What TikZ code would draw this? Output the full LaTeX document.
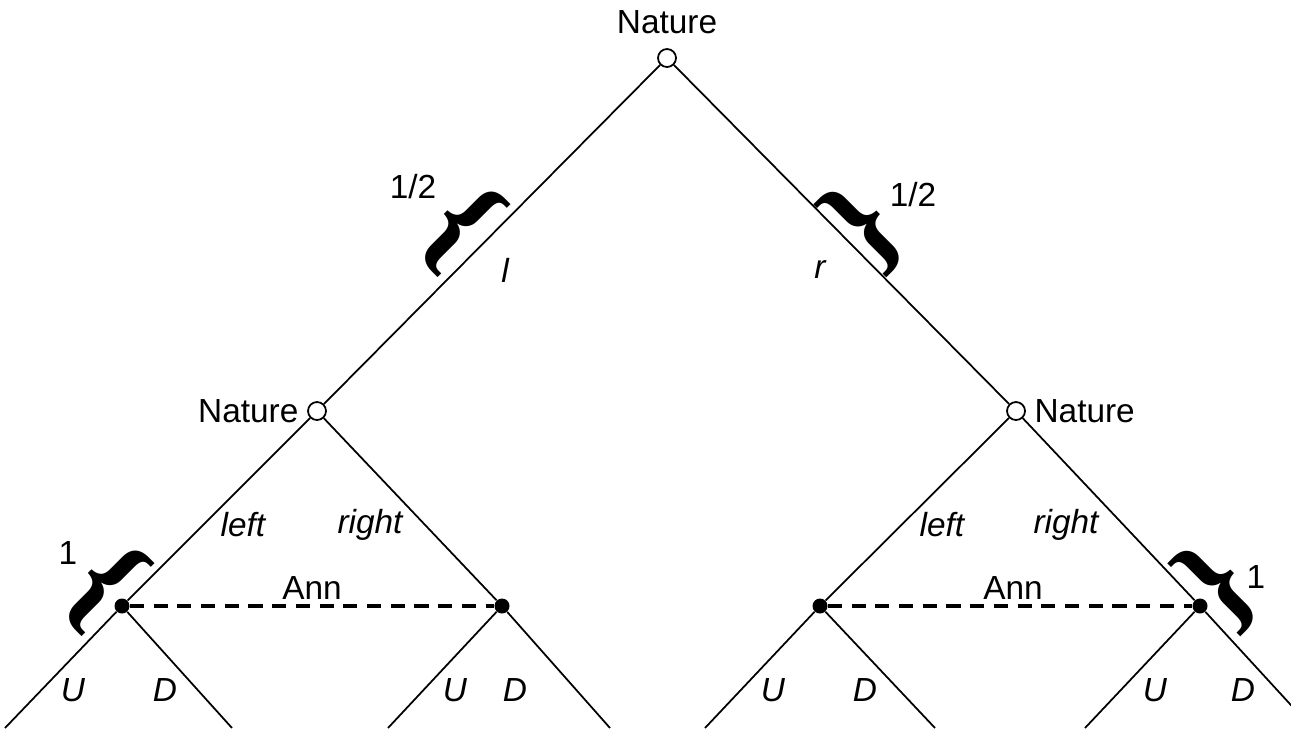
\documentclass[tikz,border=0pt]{standalone}
\usepackage{fontspec}
\setmainfont{Liberation Sans}
\newfontfamily\bracefont{Liberation Serif}[BoldFont={* Bold}]
\usetikzlibrary{positioning}

\begin{document}
\begin{tikzpicture}[
  x=0.02cm, y=-0.02cm,
  font=\fontsize{19}{23}\selectfont,
  chance/.style={circle, draw, fill=white, line width=1pt, minimum size=0.36cm, inner sep=0pt},
  dec/.style={circle, fill=black, minimum size=0.3cm, inner sep=0pt},
  branch/.style={line width=1pt},
  infoset/.style={line width=1.8pt, dash pattern=on 8pt off 5.5pt},
  elabel/.style={font=\fontsize{19}{23}\selectfont\itshape, inner sep=1pt},
  bigbrace/.style={font=\fontsize{71}{71}\selectfont\bracefont\bfseries, inner sep=0pt},
]
  \useasboundingbox (0,0) rectangle (1291,728);
  \clip (0,0) rectangle (1291,728);

  % chance nodes
  \node[chance] (n0) at (667,58) {};
  \node[chance] (n1) at (317,411) {};
  \node[chance] (n2) at (1016,411) {};
  % Ann's decision nodes
  \node[dec] (a1) at (122,606) {};
  \node[dec] (a2) at (502,606) {};
  \node[dec] (a3) at (820,606) {};
  \node[dec] (a4) at (1200,606) {};
  % ends below the frame
  \coordinate (u1) at (5,728);    \coordinate (d1) at (232,728);
  \coordinate (u2) at (388,728);  \coordinate (d2) at (610,728);
  \coordinate (u3) at (705,728);  \coordinate (d3) at (935,728);
  \coordinate (u4) at (1085,728); \coordinate (d4) at (1312,728);

  \draw[branch] (n0) -- (n1);
  \draw[branch] (n0) -- (n2);
  \draw[branch] (n1) -- (a1);
  \draw[branch] (n1) -- (a2);
  \draw[branch] (n2) -- (a3);
  \draw[branch] (n2) -- (a4);
  \foreach \i in {1,2,3,4} {
    \draw[branch] (a\i) -- (u\i);
    \draw[branch] (a\i) -- (d\i);
  }
  \draw[infoset] (a1) -- (a2);
  \draw[infoset] (a3) -- (a4);

  % players
  \node (t0) at (667,22) {Nature};
  \node[left=0.05cm of n1] (t1) {Nature};
  \node[right=0.05cm of n2] (t2) {Nature};
  \node (ann1) at (312,588) {Ann};
  \node (ann2) at (1013,588) {Ann};

  % moves
  \node[elabel] (ml) at (505,270) {l};
  \node[elabel] (mr) at (820,270) {r};
  \node[elabel] (lf1) at (243,525) {left};
  \node[elabel] (rt1) at (370,525) {right};
  \node[elabel] (lf2) at (942,525) {left};
  \node[elabel] (rt2) at (1066,525) {right};
  \foreach \x/\y [count=\k] in {73/165, 455/515, 773/865, 1155/1243} {
    \node[elabel] (mu\k) at (\x,690) {U};
    \node[elabel] (md\k) at (\y,690) {D};
  }

  % probabilities
  \node[bigbrace, rotate=-45] (b1) at (461,227) {\{};
  \node[bigbrace, rotate=45] (b2) at (864,227) {\}};
  \node[bigbrace, rotate=-45] (b3) at (105,586) {\{};
  \node[bigbrace, rotate=45] (b4) at (1218,586) {\}};
  \node (p1) at (413,187) {1/2};
  \node (p2) at (913,195) {1/2};
  \node (p3) at (68,553) {1};
  \node (p4) at (1256,577) {1};
\end{tikzpicture}
\end{document}
